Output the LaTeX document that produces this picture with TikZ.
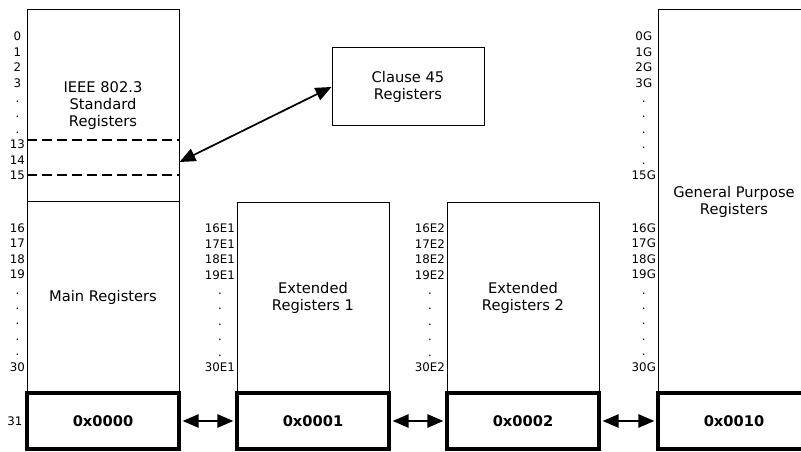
\documentclass[tikz,border=0pt]{standalone}
\usepackage{fontspec}
\setmainfont{DejaVu Sans}
\usepackage{tikz}
\usetikzlibrary{arrows.meta, positioning}

\tikzset{
  regbox/.style={draw, line width=0.75pt, minimum width=114pt, inner sep=0pt, align=center,
    font=\fontsize{11}{12.75}\selectfont},
  addrbox/.style={draw, line width=2.5pt, minimum width=114pt, minimum height=42pt, inner sep=0pt,
    font=\fontsize{11}{13}\selectfont\bfseries},
  numcol/.style={align=center, inner sep=1pt, font=\fontsize{8.85}{11.55}\selectfont},
  link/.style={{Triangle[length=12pt,width=10pt]}-{Triangle[length=12pt,width=10pt]}, line width=1.3pt},
  split/.style={dash pattern=on 7.5pt off 3.75pt, line width=1.5pt}
}

\begin{document}
\begin{tikzpicture}[x=0.75pt, y=-0.75pt]
        \useasboundingbox (0,0) rectangle (801,452);
        \clip (0,0) rectangle (801,452);

        % register blocks
        \node[regbox, minimum height=144pt] (ieee) at (103,106) {IEEE 802.3\\Standard\\Registers};
        \node[regbox, minimum height=143.25pt] (main) at (103,297.5) {Main Registers};
        \node[regbox, minimum height=142.5pt] (ext1) at (313,298) {Extended\\Registers 1};
        \node[regbox, minimum height=142.5pt] (ext2) at (523,298) {Extended\\Registers 2};
        \node[regbox, minimum height=287.25pt] (gp) at (734,201.5) {General Purpose\\Registers};
        \node[regbox, minimum height=58.5pt] (c45) at (408,87) {Clause 45\\Registers};

        % page selectors
        \node[addrbox] (a0) at (103,421) {0x0000};
        \node[addrbox] (a1) at (313,421) {0x0001};
        \node[addrbox] (a2) at (523,421) {0x0002};
        \node[addrbox] (a3) at (734,421) {0x0010};

        % register numbers
        \node[numcol, left=0pt of ieee] (ieeenum) {0\\1\\2\\3\\.\\.\\.\\13\\14\\15};
        \node[numcol, left=0pt of main] (mainnum) {16\\17\\18\\19\\.\\.\\.\\.\\.\\30};
        \node[numcol, left=1pt of a0] (a0num) {31};
        \node[numcol, left=0pt of ext1] (ext1num) {16E1\\17E1\\18E1\\19E1\\.\\.\\.\\.\\.\\30E1};
        \node[numcol, left=0pt of ext2] (ext2num) {16E2\\17E2\\18E2\\19E2\\.\\.\\.\\.\\.\\30E2};
        \node[numcol, anchor=east] (gptop) at (gp.west |- ieeenum) {0G\\1G\\2G\\3G\\.\\.\\.\\.\\.\\15G};
        \node[numcol, anchor=east] (gpbot) at (gp.west |- mainnum) {16G\\17G\\18G\\19G\\.\\.\\.\\.\\.\\30G};

        \draw[split] (ieee.west |- 0,140) -- (ieee.east |- 0,140);
        \draw[split] (ieee.west |- 0,175) -- (ieee.east |- 0,175);

        \coordinate (tap) at (ieee.east |- 0,162);
        \draw[link] (c45.west) -- (tap);

        \draw[link, shorten <=1.5pt, shorten >=1.5pt] (a0) -- (a1);
        \draw[link, shorten <=1.5pt, shorten >=1.5pt] (a1) -- (a2);
        \draw[link, shorten <=1.5pt, shorten >=1.5pt] (a2) -- (a3);
\end{tikzpicture}
\end{document}
